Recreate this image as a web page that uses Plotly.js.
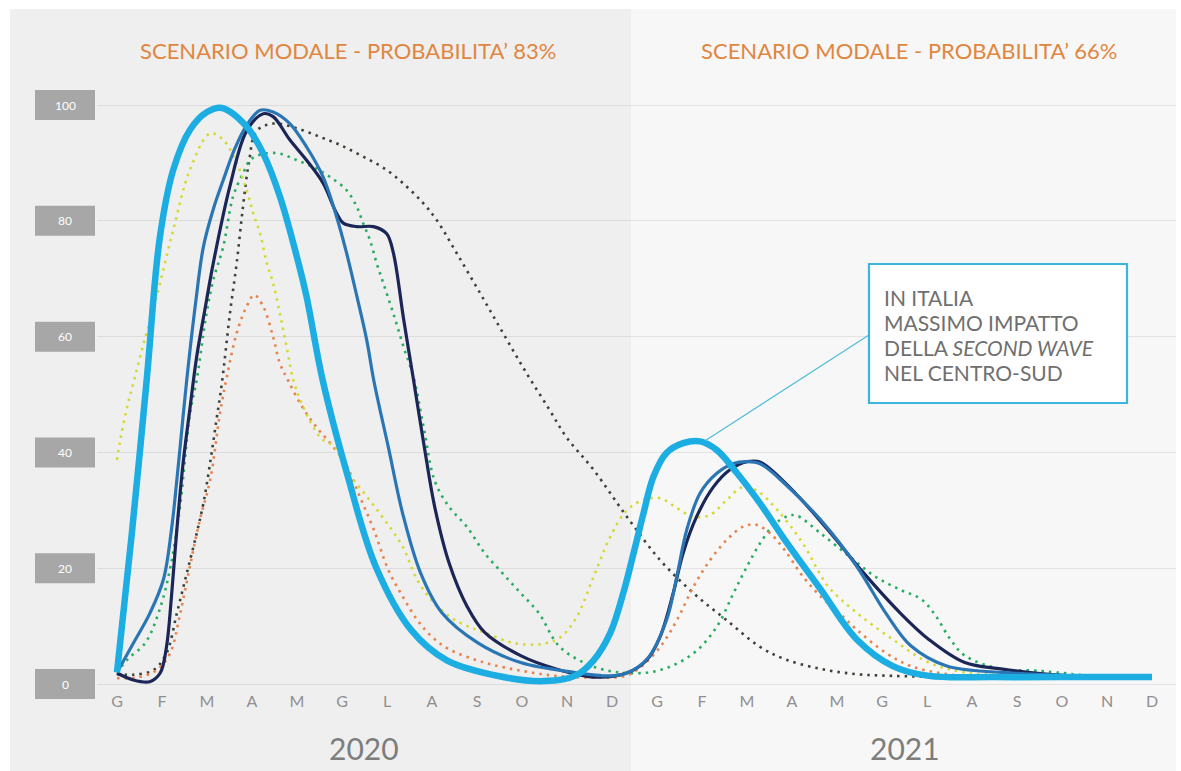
<!DOCTYPE html>
<html>
<head>
<meta charset="utf-8">
<script src="https://cdn.plot.ly/plotly-3.0.1.min.js"></script>
<style>
  html, body { margin: 0; padding: 0; background: #ffffff; }
  #chart { width: 1181px; height: 771px; }
</style>
</head>
<body>
<div id="chart"></div>
<script>
// ---------- DATA ----------
const months = ['G','F','M','A','M','G','L','A','S','O','N','D'];
const years = ['2020', '2021'];
const panelTitles = ['SCENARIO MODALE - PROBABILITA\u2019 83%', 'SCENARIO MODALE - PROBABILITA\u2019 66%'];
const yTicks = [0, 20, 40, 60, 80, 100];
const noteLines = ['IN ITALIA', 'MASSIMO IMPATTO', 'DELLA <i>SECOND WAVE</i>', 'NEL CENTRO-SUD'];

// x = month index (0 = G 2020 ... 23 = D 2021)
const cyanX = [0, 0.33, 0.66, 0.95, 1.25, 1.62, 2.0, 2.33, 2.88, 3.25, 3.62, 3.99, 4.21, 4.57, 5.11, 5.75, 6.54, 7.33, 8.53, 9.5, 10.2, 10.59, 10.96, 11.25, 11.48, 11.7, 11.92, 12.21, 12.58, 12.96, 13.33, 13.78, 14.29, 14.84, 15.64, 16.44, 17.24, 18.04, 19.5, 21, 23];
const cyanY = [2, 26, 52.5, 77, 88.8, 95.7, 98.8, 99.5, 96.3, 91.6, 84.2, 74, 67, 52.5, 36.4, 20.3, 9.3, 4.1, 1.3, 0.5, 1.5, 4.1, 8.8, 15.7, 22.6, 29.5, 35.8, 39.9, 41.6, 41.9, 40.4, 36.4, 31.2, 24.9, 16.3, 7.7, 3.1, 1.4, 1.2, 1.2, 1.2];

const blueX = [0, 0.36, 0.73, 1.03, 1.21, 1.33, 1.44, 1.55, 1.75, 1.92, 2.14, 2.36, 2.62, 2.88, 3.18, 3.47, 3.84, 4.21, 4.58, 4.88, 5.1, 5.33, 5.55, 5.71, 6.03, 6.35, 6.75, 7.22, 8.02, 8.97, 10.16, 10.95, 11.3, 11.8, 12.21, 12.44, 12.66, 12.96, 13.33, 13.7, 14.0, 14.3, 14.84, 15.64, 16.44, 17.08, 17.64, 18.44, 19.64, 21, 23];
const blueY = [2, 7, 12.2, 18, 26.6, 35.2, 43.9, 52.5, 66, 75.5, 82, 87, 92.5, 96.5, 99.1, 98.8, 96.8, 92.8, 87.6, 80.7, 74.5, 67, 59.4, 52.3, 40.9, 29.4, 19.1, 12.3, 7.1, 3.7, 2, 1.4, 1.8, 4.5, 11, 18.5, 26.6, 33, 36.4, 38.1, 38.4, 38, 34.6, 28.3, 20.3, 12.3, 6.6, 3.1, 2, 1.5, 1.4];

const navyX = [0, 0.36, 0.73, 0.96, 1.1, 1.21, 1.33, 1.47, 1.62, 1.77, 1.95, 2.14, 2.51, 2.88, 3.25, 3.47, 3.84, 4.21, 4.58, 4.88, 5.03, 5.33, 5.7, 5.99, 6.14, 6.37, 6.59, 6.83, 7.06, 7.38, 7.78, 8.17, 8.97, 9.76, 10.6, 11.33, 11.77, 12.07, 12.36, 12.58, 12.88, 13.25, 13.62, 14.0, 14.3, 15.08, 15.8, 16.6, 17.4, 18.04, 18.84, 19.64, 21, 23];
const navyY = [1.9, 0.7, 0.4, 1.9, 6.4, 15, 26.6, 38.2, 47.5, 56.5, 64.5, 72.7, 86, 95.5, 98.5, 98, 94, 90.5, 86.5, 81.3, 79.6, 79, 79, 77.8, 74.5, 63, 52.5, 40.9, 30.6, 20.9, 13.4, 8.9, 4.9, 2.6, 1.2, 1.9, 4.1, 8.2, 15.7, 22.6, 28.9, 34, 37, 38.4, 38.3, 32.9, 26.6, 19.1, 12.3, 7.7, 3.7, 2.6, 1.5, 1.4];

const yellowX = [0, 0.07, 0.21, 0.36, 0.6, 0.88, 1.25, 1.62, 2.07, 2.36, 2.66, 2.88, 3.03, 3.18, 3.33, 3.47, 3.62, 3.77, 3.92, 4.13, 4.52, 4.84, 5.16, 5.56, 5.95, 6.35, 6.67, 6.98, 7.38, 7.78, 8.17, 8.8, 9.44, 9.84, 10.21, 10.59, 10.96, 11.33, 11.7, 12.07, 12.44, 12.81, 13.18, 13.55, 13.9, 14.2, 14.68, 15.24, 15.8, 16.44, 17.24, 18.04, 18.84, 20, 21.5];
const yellowY = [38.7, 42, 47.3, 51.9, 59, 66.9, 78.4, 88.8, 95.1, 94, 90, 85.3, 81.3, 77.8, 72.7, 69.2, 64, 58.2, 52.5, 48, 42.6, 40.9, 36.3, 32.3, 28.3, 23.7, 18, 14.6, 11.7, 10, 8.9, 7.1, 6.9, 8, 11.5, 18.5, 25.4, 30, 31.8, 32.1, 30.4, 28.9, 29.2, 31.8, 34, 33.5, 30, 24.3, 16.9, 12.3, 7.7, 3.7, 2, 1.5, 1.2];

const orangeX = [0, 0.5, 0.9, 1.18, 1.4, 1.62, 1.84, 2.07, 2.29, 2.44, 2.66, 2.88, 3.05, 3.25, 3.47, 3.62, 3.81, 4.13, 4.44, 4.76, 5.08, 5.4, 5.71, 6.03, 6.35, 6.67, 6.98, 7.38, 8.17, 8.97, 9.76, 10.56, 11.3, 11.62, 12.07, 12.44, 12.81, 13.18, 13.55, 13.92, 14.21, 14.52, 14.84, 15.24, 15.64, 16.04, 16.44, 17.08, 17.64, 18.44, 19.5, 21];
const orangeY = [1, 1.2, 2.5, 5.3, 12, 20.3, 28.3, 35.2, 46.8, 53, 60.6, 65.2, 67.2, 65.2, 59.9, 55.4, 52.3, 47.7, 44.3, 41.4, 38, 32.3, 26.6, 19.7, 15.1, 11.1, 8.3, 6, 3.7, 2.3, 1.4, 1.1, 1.4, 2.8, 6.4, 11, 16.8, 21.4, 24.9, 27.2, 27.5, 26, 23.1, 18.6, 15.1, 12.3, 9.4, 5.4, 3.1, 1.7, 1.2, 1.1];

const greenX = [0, 0.24, 0.63, 0.95, 1.19, 1.4, 1.62, 1.77, 1.99, 2.14, 2.36, 2.58, 2.8, 2.96, 3.25, 3.62, 3.99, 4.36, 4.73, 5.1, 5.33, 5.47, 5.62, 5.77, 5.92, 6.14, 6.37, 6.59, 6.83, 7.06, 7.38, 7.78, 8.17, 8.57, 8.97, 9.37, 9.84, 10.59, 11.33, 12.07, 12.81, 13.33, 13.7, 14.0, 14.29, 14.6, 14.9, 15.1, 15.64, 16.28, 16.84, 17.4, 17.88, 18.2, 18.52, 18.84, 19.64, 20.44, 21.5];
const greenY = [2, 4.3, 7.1, 12.9, 20.3, 30.6, 46.6, 52.5, 64, 69.8, 75.5, 84.2, 88.2, 90.5, 91.6, 91.6, 90.5, 89.3, 87.6, 85.3, 82.4, 79.6, 76.7, 72.7, 69.2, 64, 58.2, 53, 43.7, 35.1, 30.6, 27.1, 22.6, 19.1, 15.7, 12.3, 6.4, 3, 1.9, 2.4, 5.3, 9.9, 15.7, 20.3, 24.3, 27.5, 29, 29.1, 26, 22, 18.6, 16.3, 14.6, 11.7, 7.7, 4.9, 2.6, 2.3, 1.5];

const darkX = [0, 0.36, 0.81, 1.1, 1.33, 1.55, 1.77, 1.92, 2.07, 2.21, 2.33, 2.51, 2.66, 2.8, 2.93, 3.1, 3.47, 3.99, 4.51, 4.96, 5.47, 5.99, 6.44, 6.81, 7.1, 7.55, 8.07, 8.58, 9.1, 9.6, 10.0, 10.59, 11.33, 12.07, 12.81, 13.55, 14.29, 14.84, 15.64, 16.44, 17.24, 18.5, 19.5];
const darkY = [1.7, 1.6, 2.4, 5.3, 12.2, 19.1, 26, 31.2, 38.2, 45.6, 51.9, 64, 72.7, 82.4, 90, 95.5, 96.8, 96, 94.5, 93.1, 91.1, 88.8, 85.9, 83, 80.2, 74.4, 67.5, 60.6, 53.7, 47.5, 42.5, 37, 28.9, 21.4, 15.7, 11, 6.4, 4.3, 2.6, 1.7, 1.4, 1.2, 1.2];

// note connector: from the 2021 peak of the thick series to the note box
const connector = {x0: 13.07, y0: 42, x1: 16.71, y1: 60.3};

// ---------- GEOMETRY / STYLE ----------
const W = 1181, H = 771;
const M = {l: 97, r: 5, t: 90, b: 81};
const PW = W - M.l - M.r, PH = H - M.t - M.b;
const xRange = [-0.444, 23.533];
const yRange = [-1.036, 102.6];
const px2x = px => (px - M.l) / PW;           // pixel -> paper x
const py2y = py => (H - M.b - py) / PH;       // pixel -> paper y
const v2y = v => (v - yRange[0]) / (yRange[1] - yRange[0]);
const m2x = m => (m - xRange[0]) / (xRange[1] - xRange[0]);

const dotDash = '2.5px,5px';
function line(x, y, color, width, dash) {
  return {
    x: x, y: y, type: 'scatter', mode: 'lines', hoverinfo: 'skip',
    line: {color: color, width: width, dash: dash || 'solid', shape: 'spline', smoothing: 1}
  };
}

const traces = [
  line(darkX, darkY, '#3b4236', 2.6, dotDash),
  line(greenX, greenY, '#27ad62', 2.6, dotDash),
  line(orangeX, orangeY, '#e8824c', 2.6, dotDash),
  line(yellowX, yellowY, '#d4da35', 2.6, dotDash),
  line(navyX, navyY, '#1b2657', 3.2),
  line(blueX, blueY, '#2a76b5', 3.2),
  line(cyanX, cyanY, '#1cade3', 6.5)
];

const tickVals = [], tickText = [];
years.forEach((yr, yi) => months.forEach((mo, mi) => { tickVals.push(yi * 12 + mi); tickText.push(mo); }));

const shapes = [];
const annotations = [];

// background panels
const splitX = px2x(631);
shapes.push({type: 'rect', xref: 'paper', yref: 'paper', x0: px2x(10), x1: splitX, y0: py2y(H + 5), y1: py2y(9),
  fillcolor: '#efefef', line: {width: 0}, layer: 'below'});
shapes.push({type: 'rect', xref: 'paper', yref: 'paper', x0: splitX, x1: px2x(1176), y0: py2y(H + 5), y1: py2y(9),
  fillcolor: '#f7f7f7', line: {width: 0}, layer: 'below'});

// y tick boxes
yTicks.forEach(v => {
  shapes.push({type: 'rect', xref: 'paper', yref: 'paper', x0: px2x(35), x1: px2x(95),
    y0: v2y(v) - 15 / PH, y1: v2y(v) + 15 / PH, fillcolor: '#a7a7a7', line: {width: 0}, layer: 'above'});
  annotations.push({xref: 'paper', yref: 'y', x: px2x(65), y: v, text: String(v), showarrow: false,
    xanchor: 'center', yanchor: 'middle', font: {family: 'Lato, sans-serif', size: 12, color: '#ffffff'}});
});

// panel titles and year labels
panelTitles.forEach((t, i) => {
  annotations.push({xref: 'paper', yref: 'paper', x: i === 0 ? px2x(348) : px2x(909), y: py2y(50),
    text: t, showarrow: false, xanchor: 'center', yanchor: 'middle',
    font: {family: 'Lato, sans-serif', size: 22, color: '#e0863f'}});
});
years.forEach((yr, i) => {
  annotations.push({xref: 'paper', yref: 'paper', x: m2x(i * 12 + 5.5), y: py2y(748),
    text: yr, showarrow: false, xanchor: 'center', yanchor: 'middle',
    font: {family: 'Lato, sans-serif', size: 30, color: '#7d7d7d'}});
});

// note box and connector
shapes.push({type: 'line', xref: 'x', yref: 'y', x0: connector.x0, y0: connector.y0, x1: connector.x1, y1: connector.y1,
  line: {color: '#4fbcdc', width: 1.2}, layer: 'above'});
shapes.push({type: 'rect', xref: 'paper', yref: 'paper', x0: px2x(869), x1: px2x(1127), y0: py2y(403), y1: py2y(264),
  fillcolor: '#ffffff', line: {color: '#3db4dc', width: 2.2}, layer: 'above'});
noteLines.forEach((t, i) => {
  annotations.push({xref: 'paper', yref: 'paper', x: px2x(882), y: py2y(297 + 25 * i),
    text: t, showarrow: false, xanchor: 'left', yanchor: 'middle',
    font: {family: 'Lato, sans-serif', size: 21, color: '#6f6f6f'}});
});

const layout = {
  width: W, height: H,
  margin: M,
  paper_bgcolor: '#ffffff',
  plot_bgcolor: 'rgba(0,0,0,0)',
  showlegend: false,
  xaxis: {
    range: xRange, tickvals: tickVals, ticktext: tickText,
    showgrid: false, zeroline: false, showline: false, ticks: '',
    tickfont: {family: 'Lato, sans-serif', size: 16, color: '#8f8f8f'},
    fixedrange: true
  },
  yaxis: {
    range: yRange, tickvals: yTicks, showticklabels: false,
    showgrid: true, gridcolor: 'rgba(0,0,0,0.08)', gridwidth: 1,
    zeroline: false, showline: false, ticks: '', fixedrange: true
  },
  shapes: shapes,
  annotations: annotations
};

Plotly.newPlot('chart', traces, layout, {staticPlot: true, displayModeBar: false});
</script>
</body>
</html>
